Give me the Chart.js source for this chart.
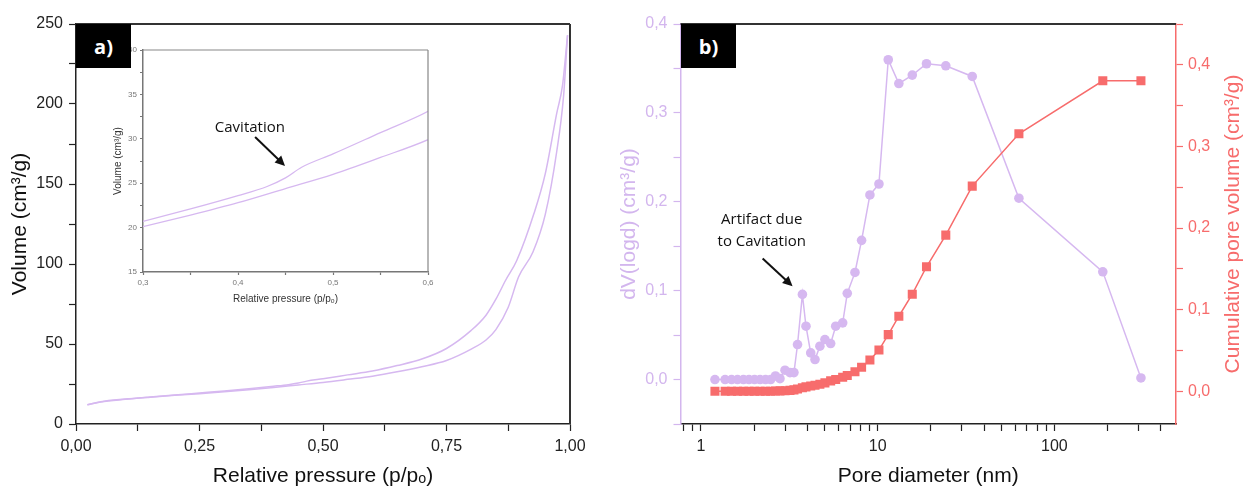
<!DOCTYPE html>
<html>
<head>
<meta charset="utf-8">
<script src="https://cdn.jsdelivr.net/npm/chart.js@4.4.0/dist/chart.umd.min.js"></script>
<style>
  body { margin: 0; background: #fff; }
  #wrap { position: relative; width: 1243px; height: 489px; overflow: hidden; }
  canvas { position: absolute; }
  .tag { position: absolute; background: #000; color: #fff; font: bold 20px "Open Sans", sans-serif;
         display: flex; align-items: center; justify-content: center; }
</style>
</head>
<body>
<div id="wrap">
  <canvas id="isoChart" width="600" height="489" style="left:0;top:0"></canvas>
  <canvas id="insetChart" width="340" height="270" style="left:100px;top:40px"></canvas>
  <canvas id="poreChart" width="643" height="489" style="left:600px;top:0"></canvas>
  <div class="tag" style="left:76px;top:24px;width:55px;height:44px">a)</div>
  <div class="tag" style="left:681px;top:24px;width:55px;height:44px">b)</div>
</div>
<script>
// panel a: N2 isotherm, two branches
const adsP = [0.023, 0.05, 0.1, 0.15, 0.2, 0.25, 0.3, 0.35, 0.4, 0.45, 0.5, 0.55, 0.6, 0.65, 0.7, 0.75, 0.8, 0.83, 0.85, 0.875, 0.896, 0.925, 0.95, 0.973, 0.987, 0.995];
const adsV = [12.0, 13.8, 15.4, 16.7, 17.9, 18.9, 20.1, 21.4, 22.8, 24.4, 26.0, 27.9, 29.9, 32.6, 35.8, 39.7, 46.8, 52.5, 59, 73, 92, 107.5, 131, 170, 205, 243];
const desP = [0.023, 0.05, 0.1, 0.15, 0.2, 0.25, 0.3, 0.35, 0.4, 0.43, 0.45, 0.467, 0.5, 0.55, 0.6, 0.65, 0.7, 0.75, 0.8, 0.83, 0.85, 0.87, 0.892, 0.927, 0.95, 0.973, 0.985, 0.995];
const desV = [12.0, 13.9, 15.6, 16.9, 18.1, 19.4, 20.7, 22.1, 23.6, 24.6, 25.6, 26.8, 28.3, 30.7, 33.1, 36.5, 40.6, 47.2, 58.5, 68, 78, 90, 102, 131.5, 156.5, 194, 212, 243];

const isoXMajor = [0, 0.25, 0.5, 0.75, 1];
const isoXLabels = ['0,00', '0,25', '0,50', '0,75', '1,00'];
const isoXMinor = [0.125, 0.375, 0.625, 0.875];
const isoYMajor = [0, 50, 100, 150, 200, 250];
const isoYLabels = ['0', '50', '100', '150', '200', '250'];
const isoYMinor = [25, 75, 125, 175, 225];

const insetXMajor = [0.3, 0.4, 0.5, 0.6];
const insetXLabels = ['0,3', '0,4', '0,5', '0,6'];
const insetXMinor = [0.35, 0.45, 0.55];
const insetYMajor = [15, 20, 25, 30, 35, 40];
const insetYLabels = ['15', '20', '25', '30', '35', '40'];
const insetYMinor = [17.5, 22.5, 27.5, 32.5, 37.5];

// panel b: pore size distribution
const poreD = [1.20, 1.37, 1.49, 1.61, 1.74, 1.87, 2.01, 2.16, 2.32, 2.48, 2.64, 2.80, 2.99, 3.19, 3.36, 3.52, 3.75, 3.93, 4.18, 4.42, 4.71, 5.03, 5.42, 5.79, 6.34, 6.73, 7.44, 8.11, 9.04, 10.17, 11.48, 13.18, 15.7, 18.9, 24.3, 34.3, 63, 188, 309];
const dvLogD = [0, 0, 0, 0, 0, 0, 0, 0, 0, 0, 0.004, 0.001, 0.0105, 0.0078, 0.0078, 0.0394, 0.0958, 0.060, 0.030, 0.0225, 0.0375, 0.045, 0.0405, 0.060, 0.0638, 0.097, 0.1205, 0.1566, 0.2077, 0.220, 0.3598, 0.333, 0.3425, 0.3553, 0.353, 0.341, 0.204, 0.1212, 0.0018];
const cumVol = [0, 0, 0, 0, 0, 0, 0, 0, 0, 0.0002, 0.0004, 0.0006, 0.0008, 0.0012, 0.0018, 0.0028, 0.0045, 0.0055, 0.0066, 0.0075, 0.0088, 0.0104, 0.0128, 0.0146, 0.0172, 0.0193, 0.0240, 0.0294, 0.0383, 0.0506, 0.0695, 0.092, 0.119, 0.1526, 0.1914, 0.2514, 0.3155, 0.3804, 0.3804];

const poreXMajor = [1, 10, 100];
const poreXLabels = ['1', '10', '100'];
const poreXMinor = [0.8, 0.9, 2, 3, 4, 5, 6, 7, 8, 9, 20, 30, 40, 50, 60, 70, 80, 90, 200, 300, 400];
const dvMajor = [0, 0.1, 0.2, 0.3, 0.4];
const dvLabels = ['0,0', '0,1', '0,2', '0,3', '0,4'];
const dvMinor = [-0.05, 0.05, 0.15, 0.25, 0.35];
const cumMajor = [0, 0.1, 0.2, 0.3, 0.4];
const cumLabels = ['0,0', '0,1', '0,2', '0,3', '0,4'];
const cumMinor = [0.05, 0.15, 0.25, 0.35, 0.45];

const LAVENDER = '#d6b8f0';
const LAV_AXIS = '#d3b6ee';
const RED = '#f76c6c';
const SANS = '"Liberation Sans", Arial, sans-serif';
const NOTE = '"Open Sans", sans-serif';

const pairs = (xs, ys) => xs.map((x, i) => ({ x, y: ys[i] }));
const allTicks = (major, minor) => major.concat(minor).sort((a, b) => a - b).map(value => ({ value }));
const labelFor = (major, labels) => v => {
  const i = major.findIndex(m => Math.abs(m - v) < 1e-9);
  return i < 0 ? '' : labels[i];
};

function frame(color, width, sides) {
  return {
    id: 'frame',
    afterDatasetsDraw(chart) {
      const { ctx, chartArea: a } = chart;
      ctx.save();
      ctx.strokeStyle = color; ctx.lineWidth = width;
      ctx.beginPath();
      if (sides.includes('top')) { ctx.moveTo(a.left, a.top); ctx.lineTo(a.right, a.top); }
      if (sides.includes('right')) { ctx.moveTo(a.right, a.top); ctx.lineTo(a.right, a.bottom); }
      ctx.stroke();
      ctx.restore();
    }
  };
}

function arrow(ctx, x1, y1, x2, y2, head) {
  const ang = Math.atan2(y2 - y1, x2 - x1);
  ctx.beginPath();
  ctx.moveTo(x1, y1);
  ctx.lineTo(x2 - head * 0.7 * Math.cos(ang), y2 - head * 0.7 * Math.sin(ang));
  ctx.stroke();
  ctx.beginPath();
  ctx.moveTo(x2, y2);
  ctx.lineTo(x2 - head * Math.cos(ang - 0.45), y2 - head * Math.sin(ang - 0.45));
  ctx.lineTo(x2 - head * Math.cos(ang + 0.45), y2 - head * Math.sin(ang + 0.45));
  ctx.closePath();
  ctx.fill();
}

// note = { lines: [[text, x, y]...], from: [x, y], to: [x, y] } in data units
function notePlugin(note, xId, yId) {
  return {
    id: 'note',
    afterDatasetsDraw(chart) {
      const { ctx } = chart, sx = chart.scales[xId], sy = chart.scales[yId];
      ctx.save();
      ctx.fillStyle = '#111'; ctx.strokeStyle = '#111'; ctx.lineWidth = 2;
      ctx.font = '15px ' + NOTE; ctx.textAlign = 'center'; ctx.textBaseline = 'middle';
      note.lines.forEach(([t, x, y]) => ctx.fillText(t, sx.getPixelForValue(x), sy.getPixelForValue(y)));
      arrow(ctx, sx.getPixelForValue(note.from[0]), sy.getPixelForValue(note.from[1]),
        sx.getPixelForValue(note.to[0]), sy.getPixelForValue(note.to[1]), 11);
      ctx.restore();
    }
  };
}

function axis(opts) {
  const { major, labels, minor, color, font, tick, pad, size } = opts;
  return {
    afterBuildTicks: s => { s.ticks = allTicks(major, minor); },
    afterFit: s => { if (s.isHorizontal()) s.height = size; else s.width = size; },
    ticks: { callback: labelFor(major, labels), color, font, padding: pad, autoSkip: false, maxRotation: 0 },
    grid: { drawOnChartArea: false, drawTicks: true, tickLength: tick, color, tickWidth: 1.2 },
    border: { display: true, color, width: 1.5 }
  };
}

// ---------- panel a ----------
new Chart(document.getElementById('isoChart'), {
  type: 'scatter',
  data: {
    datasets: [
      { data: pairs(desP, desV), showLine: true, borderColor: LAVENDER, borderWidth: 1.5, pointRadius: 0, cubicInterpolationMode: 'monotone' },
      { data: pairs(adsP, adsV), showLine: true, borderColor: LAVENDER, borderWidth: 1.5, pointRadius: 0, cubicInterpolationMode: 'monotone' }
    ]
  },
  options: {
    responsive: false, animation: false, devicePixelRatio: 1,
    layout: { padding: { top: 24, right: 30, left: 0, bottom: 0 } },
    plugins: { legend: { display: false }, tooltip: { enabled: false } },
    scales: {
      x: Object.assign(axis({ major: isoXMajor, labels: isoXLabels, minor: isoXMinor, color: '#222', font: { family: SANS, size: 16 }, tick: 7, pad: 6, size: 65 }), {
        type: 'linear', min: 0, max: 1,
        title: { display: true, text: 'Relative pressure (p/pₒ)', color: '#111', font: { family: SANS, size: 21 }, padding: { top: 0, bottom: 0 } }
      }),
      y: Object.assign(axis({ major: isoYMajor, labels: isoYLabels, minor: isoYMinor, color: '#222', font: { family: SANS, size: 16 }, tick: 7, pad: 6, size: 76 }), {
        type: 'linear', min: 0, max: 250,
        title: { display: true, text: 'Volume (cm³/g)', color: '#111', font: { family: SANS, size: 21 }, padding: { top: 8, bottom: 0 } }
      })
    }
  },
  plugins: [frame('#333', 2, ['top', 'right'])]
});

// ---------- inset ----------
new Chart(document.getElementById('insetChart'), {
  type: 'scatter',
  data: {
    datasets: [
      { data: pairs(desP, desV), showLine: true, borderColor: LAVENDER, borderWidth: 1.3, pointRadius: 0, cubicInterpolationMode: 'monotone' },
      { data: pairs(adsP, adsV), showLine: true, borderColor: LAVENDER, borderWidth: 1.3, pointRadius: 0, cubicInterpolationMode: 'monotone' }
    ]
  },
  options: {
    responsive: false, animation: false, devicePixelRatio: 1,
    layout: { padding: { top: 10, right: 12, left: 0, bottom: 0 } },
    plugins: { legend: { display: false }, tooltip: { enabled: false } },
    scales: {
      x: Object.assign(axis({ major: insetXMajor, labels: insetXLabels, minor: insetXMinor, color: '#777', font: { family: SANS, size: 8 }, tick: 3, pad: 3, size: 38 }), {
        type: 'linear', min: 0.3, max: 0.6,
        title: { display: true, text: 'Relative pressure (p/pₒ)', color: '#333', font: { family: SANS, size: 10 }, padding: { top: 0, bottom: 5 } }
      }),
      y: Object.assign(axis({ major: insetYMajor, labels: insetYLabels, minor: insetYMinor, color: '#777', font: { family: SANS, size: 8 }, tick: 3, pad: 3, size: 43 }), {
        type: 'linear', min: 15, max: 40,
        title: { display: true, text: 'Volume (cm³/g)', color: '#333', font: { family: SANS, size: 10 }, padding: { top: 12, bottom: 0 } }
      })
    }
  },
  plugins: [
    frame('#888', 1.2, ['top', 'right']),
    notePlugin({ lines: [['Cavitation', 0.4125, 31.3]], from: [0.418, 30.2], to: [0.4495, 26.95] }, 'x', 'y')
  ]
});

// ---------- panel b ----------
const rightTitle = {
  id: 'rightTitle',
  afterDraw(chart) {
    const { ctx, chartArea: a } = chart;
    ctx.save();
    ctx.translate(chart.width - 10, (a.top + a.bottom) / 2);
    ctx.rotate(-Math.PI / 2);
    ctx.fillStyle = RED; ctx.font = '21px ' + SANS;
    ctx.textAlign = 'center'; ctx.textBaseline = 'middle';
    ctx.fillText('Cumulative pore volume (cm³/g)', 0, 0);
    ctx.restore();
  }
};

new Chart(document.getElementById('poreChart'), {
  type: 'scatter',
  data: {
    datasets: [
      { label: 'Cumulative pore volume', data: pairs(poreD, cumVol), yAxisID: 'yR', showLine: true,
        borderColor: RED, backgroundColor: RED, borderWidth: 1.5, pointStyle: 'rect', pointRadius: 6.4, pointBorderWidth: 0 },
      { label: 'dV(logd)', data: pairs(poreD, dvLogD), yAxisID: 'yL', showLine: true,
        borderColor: LAVENDER, backgroundColor: LAVENDER, borderWidth: 1.5, pointStyle: 'circle', pointRadius: 4.8, pointBorderWidth: 0 }
    ]
  },
  options: {
    responsive: false, animation: false, devicePixelRatio: 1,
    layout: { padding: { top: 24, right: 0, left: 0, bottom: 0 } },
    plugins: { legend: { display: false }, tooltip: { enabled: false } },
    scales: {
      x: Object.assign(axis({ major: poreXMajor, labels: poreXLabels, minor: poreXMinor, color: '#222', font: { family: SANS, size: 16 }, tick: 7, pad: 6, size: 65 }), {
        type: 'logarithmic', min: 0.766, max: 488,
        title: { display: true, text: 'Pore diameter (nm)', color: '#111', font: { family: SANS, size: 21 }, padding: { top: 0, bottom: 0 } }
      }),
      yL: Object.assign(axis({ major: dvMajor, labels: dvLabels, minor: dvMinor, color: LAV_AXIS, font: { family: SANS, size: 16 }, tick: 7, pad: 6, size: 80.5 }), {
        type: 'linear', position: 'left', min: -0.05, max: 0.4,
        title: { display: true, text: 'dV(logd) (cm³/g)', color: LAV_AXIS, font: { family: SANS, size: 21 }, padding: { top: 17, bottom: 0 } }
      }),
      yR: Object.assign(axis({ major: cumMajor, labels: cumLabels, minor: cumMinor, color: RED, font: { family: SANS, size: 16 }, tick: 7, pad: 5, size: 67 }), {
        type: 'linear', position: 'right', min: -0.04, max: 0.45
      })
    }
  },
  plugins: [
    frame('#333', 2, ['top']),
    rightTitle,
    notePlugin({ lines: [['Artifact due', 2.208, 0.1795], ['to Cavitation', 2.208, 0.1556]], from: [2.234, 0.1363], to: [3.30, 0.1051] }, 'x', 'yL')
  ]
});
</script>
</body>
</html>
